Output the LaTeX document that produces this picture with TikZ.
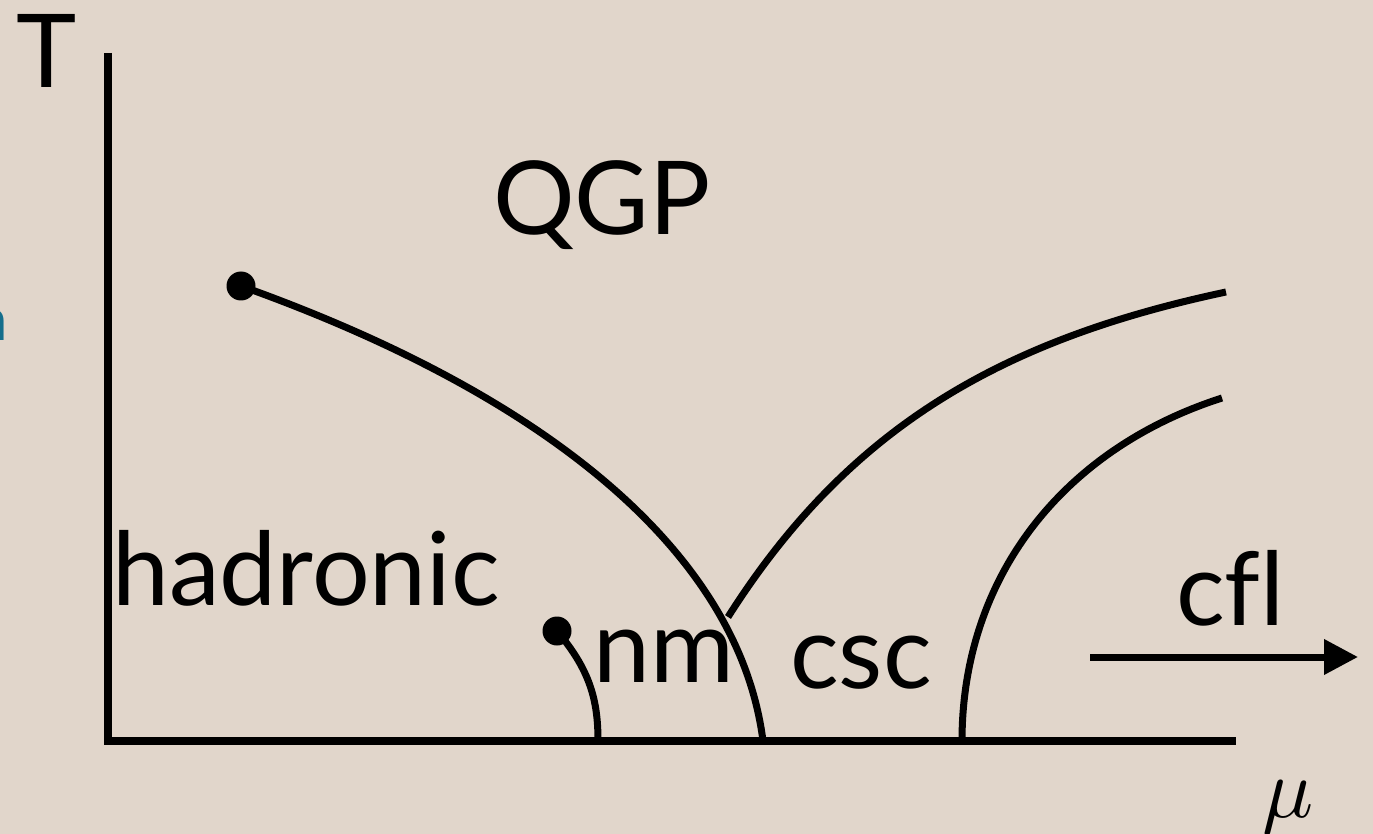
\documentclass[tikz,border=0pt]{standalone}
\usepackage{fontspec}
\setmainfont[Ligatures=NoCommon]{Lato}
\usetikzlibrary{arrows.meta}
\definecolor{bg}{RGB}{225,214,203}
\definecolor{tealc}{RGB}{20,110,140}
\begin{document}
\begin{tikzpicture}[x=1pt,y=-1pt,
  lbl/.style={inner sep=0pt,anchor=base west,font=\fontsize{102}{110}\selectfont},
  phase/.style={line width=7pt},
  axis/.style={line width=8pt},
  dotc/.style={circle,fill=black,inner sep=0pt,minimum size=29pt}]
\useasboundingbox (0,0) rectangle (1373,834);
\clip (0,0) rectangle (1373,834);
\fill[bg] (0,0) rectangle (1373,834);
% fragment at left edge
\node[inner sep=0pt,anchor=base east,text=tealc,font=\fontsize{60}{60}\rmfamily\selectfont] (frag) at (8,340) {n};
% axes
\coordinate (o) at (108,741);
\coordinate (ytop) at (108,53);
\coordinate (xend) at (1236,741);
\draw[axis] (ytop) -- (o |- xend) -- (xend);
% points
\node[dotc] (cp) at (241,286) {};
\node[dotc] (nmcp) at (557,631) {};
\coordinate (b1) at (763,741);
\coordinate (b2) at (962,741);
\coordinate (b3) at (598,741);
\coordinate (j) at (728,617);
\coordinate (e1) at (1226,292);
\coordinate (e2) at (1222,398);
% phase lines
\draw[phase] (cp.center) .. controls (560,400) and (740,560) .. (b1);
\draw[phase] (j) .. controls (848,428) and (1000,340) .. (e1);
\draw[phase] (b2) .. controls (962,580) and (1060,450) .. (e2);
\draw[phase] (nmcp.center) .. controls (590,670) and (598,700) .. (b3);
% arrow
\coordinate (a0) at (1090,657);
\coordinate (a1) at (1358,657);
\draw[line width=7pt,-{Triangle[length=34pt,width=34pt]}] (a0) -- (a1);
% labels
\node[lbl] (T) at (16,88) {T};
\node[lbl] (qgp) at (493,235) {QGP};
\node[lbl] (had) at (112,605) {hadronic};
\node[lbl] (cfl) at (1176,625) {cfl};
\node[lbl] (nm) at (593,682) {nm};
\node[lbl] (csc) at (790,688) {csc};
\node[inner sep=0pt,anchor=base west] (mu) at (1262,817) {\scalebox{8.5}{$\mu$}};
\end{tikzpicture}
\end{document}
